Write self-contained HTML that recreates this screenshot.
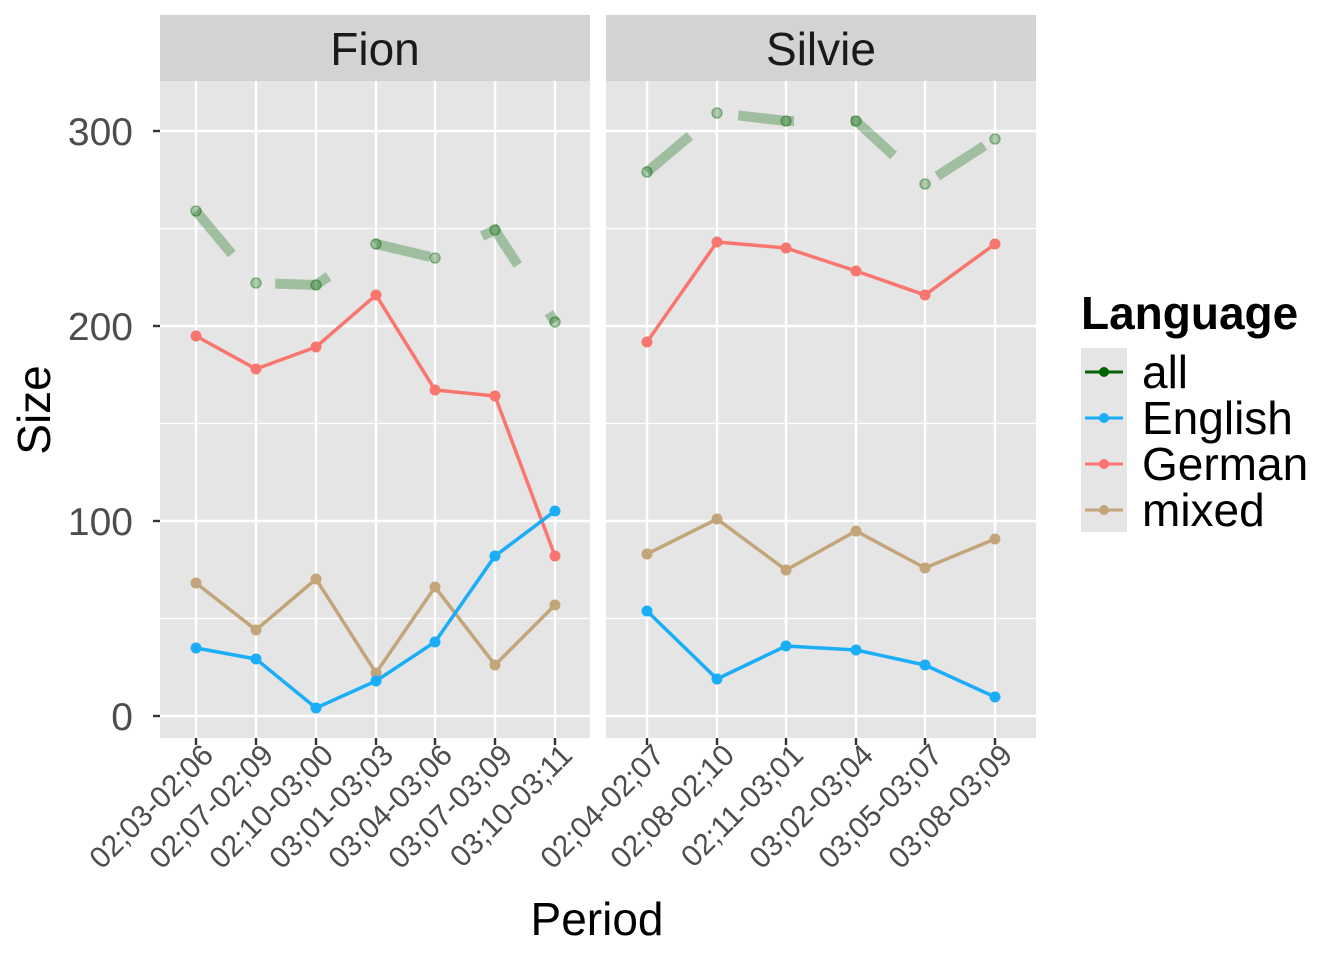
<!DOCTYPE html>
<html><head><style>body{margin:0;background:#fff}</style></head><body>
<svg width="1344" height="960" xmlns="http://www.w3.org/2000/svg" font-family="Liberation Sans, sans-serif">
<rect width="1344" height="960" fill="#fff"/>
<rect x="160" y="81" width="430" height="657" fill="#e5e5e5"/>
<rect x="606" y="81" width="430" height="657" fill="#e5e5e5"/>
<rect x="160" y="15" width="430" height="66" fill="#d3d3d3"/>
<rect x="606" y="15" width="430" height="66" fill="#d3d3d3"/>
<text x="375" y="65" font-size="46" text-anchor="middle" fill="#1a1a1a">Fion</text>
<text x="821" y="65" font-size="46" text-anchor="middle" fill="#1a1a1a">Silvie</text>
<g stroke="#fff" fill="none">
<g stroke-width="1.2">
<line x1="160" x2="590" y1="618.5" y2="618.5"/><line x1="160" x2="590" y1="423.5" y2="423.5"/><line x1="160" x2="590" y1="228.5" y2="228.5"/>
<line x1="606" x2="1036" y1="618.5" y2="618.5"/><line x1="606" x2="1036" y1="423.5" y2="423.5"/><line x1="606" x2="1036" y1="228.5" y2="228.5"/>
</g>
<g stroke-width="2.4">
<line x1="160" x2="590" y1="716" y2="716"/><line x1="160" x2="590" y1="521" y2="521"/><line x1="160" x2="590" y1="326" y2="326"/><line x1="160" x2="590" y1="131" y2="131"/>
<line x1="606" x2="1036" y1="716" y2="716"/><line x1="606" x2="1036" y1="521" y2="521"/><line x1="606" x2="1036" y1="326" y2="326"/><line x1="606" x2="1036" y1="131" y2="131"/>
<line x1="196" x2="196" y1="81" y2="738"/><line x1="256" x2="256" y1="81" y2="738"/><line x1="316" x2="316" y1="81" y2="738"/><line x1="376" x2="376" y1="81" y2="738"/><line x1="435" x2="435" y1="81" y2="738"/><line x1="495" x2="495" y1="81" y2="738"/><line x1="555" x2="555" y1="81" y2="738"/>
<line x1="647" x2="647" y1="81" y2="738"/><line x1="717" x2="717" y1="81" y2="738"/><line x1="786" x2="786" y1="81" y2="738"/><line x1="856" x2="856" y1="81" y2="738"/><line x1="925" x2="925" y1="81" y2="738"/><line x1="995" x2="995" y1="81" y2="738"/>
</g></g>
<g stroke="#006400" stroke-opacity="0.3" fill="none">
<polyline stroke-width="10" stroke-dasharray="56 57" points="196,211 256,283 316,285 376,244 435,258 495,230 555,322"/>
<polyline stroke-width="10" stroke-dasharray="56 57" points="647,172 717,113 786,121 856,121 925,184 995,139"/>
</g>
<g fill="#006400" fill-opacity="0.3" stroke="#006400" stroke-opacity="0.4" stroke-width="1.5">
<circle cx="196" cy="211" r="5"/><circle cx="256" cy="283" r="5"/><circle cx="316" cy="285" r="5"/><circle cx="376" cy="244" r="5"/><circle cx="435" cy="258" r="5"/><circle cx="495" cy="230" r="5"/><circle cx="555" cy="322" r="5"/>
<circle cx="647" cy="172" r="5"/><circle cx="717" cy="113" r="5"/><circle cx="786" cy="121" r="5"/><circle cx="856" cy="121" r="5"/><circle cx="925" cy="184" r="5"/><circle cx="995" cy="139" r="5"/>
</g>
<g stroke="#F8766D" fill="none" stroke-width="3.5">
<polyline points="196,336 256,369 316,347 376,295 435,390 495,396 555,556"/>
<polyline points="647,342 717,242 786,248 856,271 925,295 995,244"/>
</g>
<g fill="#F8766D"><circle cx="196" cy="336" r="5.5"/><circle cx="256" cy="369" r="5.5"/><circle cx="316" cy="347" r="5.5"/><circle cx="376" cy="295" r="5.5"/><circle cx="435" cy="390" r="5.5"/><circle cx="495" cy="396" r="5.5"/><circle cx="555" cy="556" r="5.5"/>
<circle cx="647" cy="342" r="5.5"/><circle cx="717" cy="242" r="5.5"/><circle cx="786" cy="248" r="5.5"/><circle cx="856" cy="271" r="5.5"/><circle cx="925" cy="295" r="5.5"/><circle cx="995" cy="244" r="5.5"/></g>
<g stroke="#C4A57A" fill="none" stroke-width="3.5">
<polyline points="196,583 256,630 316,579 376,673 435,587 495,665 555,605"/>
<polyline points="647,554 717,519 786,570 856,531 925,568 995,539"/>
</g>
<g fill="#C4A57A"><circle cx="196" cy="583" r="5.5"/><circle cx="256" cy="630" r="5.5"/><circle cx="316" cy="579" r="5.5"/><circle cx="376" cy="673" r="5.5"/><circle cx="435" cy="587" r="5.5"/><circle cx="495" cy="665" r="5.5"/><circle cx="555" cy="605" r="5.5"/>
<circle cx="647" cy="554" r="5.5"/><circle cx="717" cy="519" r="5.5"/><circle cx="786" cy="570" r="5.5"/><circle cx="856" cy="531" r="5.5"/><circle cx="925" cy="568" r="5.5"/><circle cx="995" cy="539" r="5.5"/></g>
<g stroke="#1AADF8" fill="none" stroke-width="3.5">
<polyline points="196,648 256,659 316,708 376,681 435,642 495,556 555,511"/>
<polyline points="647,611 717,679 786,646 856,650 925,665 995,697"/>
</g>
<g fill="#1AADF8"><circle cx="196" cy="648" r="5.5"/><circle cx="256" cy="659" r="5.5"/><circle cx="316" cy="708" r="5.5"/><circle cx="376" cy="681" r="5.5"/><circle cx="435" cy="642" r="5.5"/><circle cx="495" cy="556" r="5.5"/><circle cx="555" cy="511" r="5.5"/>
<circle cx="647" cy="611" r="5.5"/><circle cx="717" cy="679" r="5.5"/><circle cx="786" cy="646" r="5.5"/><circle cx="856" cy="650" r="5.5"/><circle cx="925" cy="665" r="5.5"/><circle cx="995" cy="697" r="5.5"/></g>
<g stroke="#333" stroke-width="2.4"><line x1="153" x2="160" y1="716" y2="716"/><line x1="153" x2="160" y1="521" y2="521"/><line x1="153" x2="160" y1="326" y2="326"/><line x1="153" x2="160" y1="131" y2="131"/>
<line y1="738" y2="745" x1="196" x2="196"/><line y1="738" y2="745" x1="256" x2="256"/><line y1="738" y2="745" x1="316" x2="316"/><line y1="738" y2="745" x1="376" x2="376"/><line y1="738" y2="745" x1="435" x2="435"/><line y1="738" y2="745" x1="495" x2="495"/><line y1="738" y2="745" x1="555" x2="555"/>
<line y1="738" y2="745" x1="647" x2="647"/><line y1="738" y2="745" x1="717" x2="717"/><line y1="738" y2="745" x1="786" x2="786"/><line y1="738" y2="745" x1="856" x2="856"/><line y1="738" y2="745" x1="925" x2="925"/><line y1="738" y2="745" x1="995" x2="995"/></g>
<g font-size="39" fill="#4d4d4d" text-anchor="end"><text x="133" y="730">0</text><text x="133" y="535">100</text><text x="133" y="340">200</text><text x="133" y="145">300</text></g>
<text transform="translate(50,410) rotate(-90)" font-size="46" text-anchor="middle" fill="#000">Size</text>
<g font-size="30" fill="#4d4d4d" text-anchor="end">
<text transform="translate(215,757) rotate(-45)">02;03-02;06</text>
<text transform="translate(275,757) rotate(-45)">02;07-02;09</text>
<text transform="translate(335,757) rotate(-45)">02;10-03;00</text>
<text transform="translate(395,757) rotate(-45)">03;01-03;03</text>
<text transform="translate(454,757) rotate(-45)">03;04-03;06</text>
<text transform="translate(514,757) rotate(-45)">03;07-03;09</text>
<text transform="translate(574,757) rotate(-45)">03;10-03;11</text>
<text transform="translate(666,757) rotate(-45)">02;04-02;07</text>
<text transform="translate(736,757) rotate(-45)">02;08-02;10</text>
<text transform="translate(805,757) rotate(-45)">02;11-03;01</text>
<text transform="translate(875,757) rotate(-45)">03;02-03;04</text>
<text transform="translate(944,757) rotate(-45)">03;05-03;07</text>
<text transform="translate(1014,757) rotate(-45)">03;08-03;09</text>
</g>
<text x="597" y="935" font-size="46" text-anchor="middle" fill="#000">Period</text>
<text x="1081" y="329" font-size="46" font-weight="bold" fill="#000">Language</text>
<rect x="1081" y="348" width="46" height="184" fill="#e5e5e5"/>
<g stroke-width="3"><line x1="1085" x2="1123" y1="372" y2="372" stroke="#006400"/><line x1="1085" x2="1123" y1="418" y2="418" stroke="#1AADF8"/><line x1="1085" x2="1123" y1="464" y2="464" stroke="#F8766D"/><line x1="1085" x2="1123" y1="510" y2="510" stroke="#C4A57A"/></g>
<circle cx="1104" cy="372" r="5" fill="#006400"/><circle cx="1104" cy="418" r="5" fill="#1AADF8"/><circle cx="1104" cy="464" r="5" fill="#F8766D"/><circle cx="1104" cy="510" r="5" fill="#C4A57A"/>
<g font-size="46" fill="#000"><text x="1142" y="388">all</text><text x="1142" y="434">English</text><text x="1142" y="480">German</text><text x="1142" y="526">mixed</text></g>
</svg>
</body></html>
